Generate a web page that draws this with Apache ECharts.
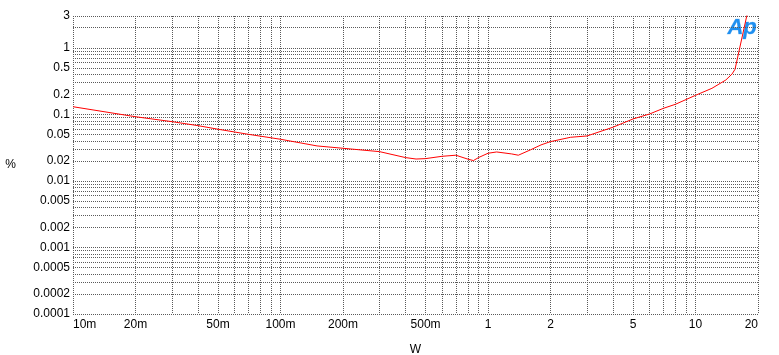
<!DOCTYPE html>
<html><head><meta charset="utf-8">
<script src="https://cdn.jsdelivr.net/npm/echarts@6/dist/echarts.min.js"></script>
<style>html,body{margin:0;padding:0;background:#fff}#c{width:779px;height:355px}</style>
</head><body><div id="c"></div>
<script>
// Data: power (W) vs THD+N (%)
const powerW = [0.01, 0.02, 0.03, 0.04, 0.05, 0.07, 0.1, 0.15, 0.2, 0.3, 0.4, 0.45, 0.5, 0.6, 0.7, 0.8, 0.85, 0.9, 1.0, 1.1, 1.3, 1.4, 1.6, 1.8, 2, 2.5, 3, 4, 5, 6, 7, 8, 10, 12, 14, 15, 15.5, 17.65, 18];
const thdPct = [0.130, 0.092, 0.0776, 0.0676, 0.0597, 0.0501, 0.0422, 0.0335, 0.0309, 0.0275, 0.0224, 0.0213, 0.0216, 0.0234, 0.0243, 0.0212, 0.0202, 0.0224, 0.026, 0.0272, 0.0254, 0.0243, 0.0292, 0.0347, 0.0389, 0.0452, 0.0473, 0.064, 0.0852, 0.101, 0.123, 0.1415, 0.193, 0.246, 0.328, 0.404, 0.475, 3.0, 3.6];

const xGridValues = [0.01,0.02,0.03,0.04,0.05,0.06,0.07,0.08,0.09,0.1,0.2,0.3,0.4,0.5,0.6,0.7,0.8,0.9,1,2,3,4,5,6,7,8,9,10,20];
const xTickValues = [0.01, 0.02, 0.05, 0.1, 0.2, 0.5, 1, 2, 5, 10, 20];
const xTickLabels = ['10m', '20m', '50m', '100m', '200m', '500m', '1', '2', '5', '10', '20'];

const yGridValues = [0.0001,0.0002,0.0003,0.0004,0.0005,0.0006,0.0007,0.0008,0.0009,0.001,0.002,0.003,0.004,0.005,0.006,0.007,0.008,0.009,0.01,0.02,0.03,0.04,0.05,0.06,0.07,0.08,0.09,0.1,0.2,0.3,0.4,0.5,0.6,0.7,0.8,0.9,1,2,3];
const yTickValues = [0.0001, 0.0002, 0.0005, 0.001, 0.002, 0.005, 0.01, 0.02, 0.05, 0.1, 0.2, 0.5, 1, 3];
const yTickLabels = ['0.0001', '0.0002', '0.0005', '0.001', '0.002', '0.005', '0.01', '0.02', '0.05', '0.1', '0.2', '0.5', '1', '3'];

function lookup(vals, labels, v) {
  for (let i = 0; i < vals.length; i++) {
    if (Math.abs(vals[i] - v) / vals[i] < 1e-6) return labels[i];
  }
  return '';
}

const chart = echarts.init(document.getElementById('c'), null, {renderer: 'canvas'});
const font = "'Liberation Sans', Arial, sans-serif";
const gridLine = {show: true, lineStyle: {color: '#5a5a5a', type: [1, 1], width: 1}};
chart.setOption({
  animation: false,
  backgroundColor: '#fff',
  grid: {left: 73, top: 16, right: 21, bottom: 41, show: false, containLabel: false, outerBoundsMode: 'none'},
  xAxis: {
    type: 'log', logBase: 10, min: 0.01, max: 20,
    name: 'W', nameLocation: 'middle', nameGap: 30,
    nameTextStyle: {color: '#000', fontSize: 12, fontFamily: font},
    axisLine: {show: false},
    axisTick: {show: false, customValues: xGridValues},
    splitLine: gridLine,
    axisLabel: {
      customValues: xTickValues, color: '#000', fontSize: 12, fontFamily: font, margin: 5,
      alignMinLabel: 'left', alignMaxLabel: 'right',
      formatter: v => lookup(xTickValues, xTickLabels, v)
    }
  },
  yAxis: {
    type: 'log', logBase: 10, min: 0.0001, max: 3,
    name: '%', nameLocation: 'middle', nameGap: 57, nameRotate: 0,
    nameTextStyle: {color: '#000', fontSize: 12, fontFamily: font, padding: [5, 0, 0, 0]},
    axisLine: {show: false},
    axisTick: {show: false, customValues: yGridValues},
    splitLine: gridLine,
    axisLabel: {
      customValues: yTickValues, color: '#000', fontSize: 12, fontFamily: font, margin: 3,
      formatter: v => lookup(yTickValues, yTickLabels, v)
    }
  },
  graphic: [{
    type: 'text', right: 22, top: 17,
    style: {text: 'Ap', fill: '#1e8ff0', stroke: '#8cc4f5', lineWidth: 0.5, font: 'italic bold 22px "Liberation Sans", Arial, sans-serif'}
  }],
  series: [{
    type: 'line', data: powerW.map((w, i) => [w, thdPct[i]]),
    showSymbol: false, symbol: 'none', clip: true,
    lineStyle: {color: '#ff0000', width: 1}
  }]
});
</script></body></html>
